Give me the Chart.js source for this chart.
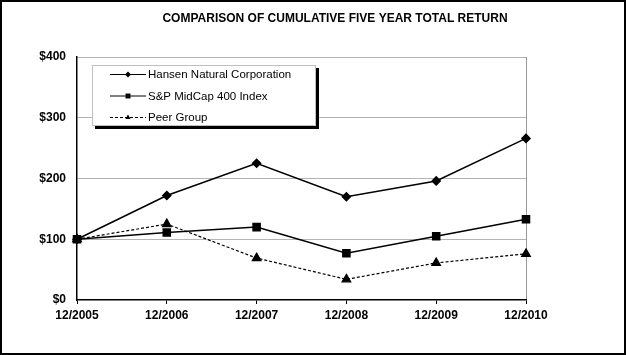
<!DOCTYPE html>
<html>
<head>
<meta charset="utf-8">
<script src="https://cdn.jsdelivr.net/npm/chart.js@4.4.1/dist/chart.umd.min.js"></script>
<style>
    html, body { margin: 0; padding: 0; background: #fff; }
    #wrap { width: 626px; height: 355px; position: relative; }
</style>
</head>
<body>
<div id="wrap"><canvas id="returnChart" width="626" height="355"></canvas></div>
<script>
// Chart values
const years = ['12/2005', '12/2006', '12/2007', '12/2008', '12/2009', '12/2010'];
const hansen = [100, 172, 225, 170, 196, 266];
const spMidCap = [100, 111, 120, 77, 105, 133];
const peerGroup = [100, 125, 69, 34, 61, 76];
const yTicks = [0, 100, 200, 300, 400];
const chartTitle = 'COMPARISON OF CUMULATIVE FIVE YEAR TOTAL RETURN';

const FONT = '"Liberation Sans", Arial, sans-serif';

// Title, framed legend with shadow and outer border
const decorPlugin = {
    id: 'decor',
    afterDraw(chart) {
        const ctx = chart.ctx;
        ctx.save();

        // title
        ctx.fillStyle = '#000';
        ctx.font = 'bold 12px ' + FONT;
        ctx.textAlign = 'center';
        ctx.textBaseline = 'middle';
        ctx.fillText(chartTitle, 335, 19);

        // legend box
        const bx = 92, by = 65, bw = 224, bh = 61;
        ctx.fillStyle = '#000';
        ctx.fillRect(bx + 3, by + 3, bw, bh);
        ctx.fillStyle = '#fff';
        ctx.fillRect(bx, by, bw, bh);
        ctx.strokeStyle = '#808080';
        ctx.lineWidth = 1;
        ctx.setLineDash([1, 1]);
        ctx.strokeRect(bx + 0.5, by + 0.5, bw - 1, bh - 1);

        const rows = [74, 95.5, 117];
        chart.data.datasets.forEach((ds, i) => {
            const y = rows[i];
            ctx.strokeStyle = '#000';
            ctx.lineWidth = 1;
            ctx.setLineDash(ds.borderDash || []);
            ctx.beginPath();
            ctx.moveTo(110, y + 0.5);
            ctx.lineTo(146, y + 0.5);
            ctx.stroke();
            ctx.setLineDash([]);
            ctx.fillStyle = '#000';
            Chart.helpers.drawPoint(ctx, {
                pointStyle: ds.pointStyle,
                radius: ds.legendRadius,
                rotation: 0,
                borderWidth: 0
            }, 128, y + 0.5);
            ctx.fillStyle = '#000';
            ctx.font = '11.5px ' + FONT;
            ctx.textAlign = 'left';
            ctx.textBaseline = 'middle';
            ctx.fillText(ds.label, 148, y + 1);
        });

        // outer frame
        ctx.setLineDash([]);
        ctx.strokeStyle = '#000';
        ctx.lineWidth = 2;
        ctx.strokeRect(1, 1, 624, 353);
        ctx.restore();
    }
};

const ctx = document.getElementById('returnChart');
new Chart(ctx, {
    type: 'line',
    data: {
        labels: years,
        datasets: [{
            label: 'Hansen Natural Corporation',
            data: hansen,
            borderColor: '#000',
            backgroundColor: '#000',
            borderWidth: 1.5,
            pointStyle: 'rectRot',
            pointRadius: 4,
            legendRadius: 3,
            tension: 0
        }, {
            label: 'S&P MidCap 400 Index',
            data: spMidCap,
            borderColor: '#000',
            backgroundColor: '#000',
            borderWidth: 1.5,
            pointStyle: 'rect',
            pointRadius: 5,
            legendRadius: 3.5,
            tension: 0
        }, {
            label: 'Peer Group',
            data: peerGroup,
            borderColor: '#000',
            backgroundColor: '#000',
            borderWidth: 1.2,
            borderDash: [3, 2],
            pointStyle: 'triangle',
            pointRadius: 5,
            legendRadius: 3,
            tension: 0
        }]
    },
    options: {
        responsive: false,
        animation: false,
        layout: { padding: { top: 57, right: 100, left: 0, bottom: 0 } },
        plugins: {
            legend: { display: false },
            title: { display: false },
            tooltip: { enabled: false }
        },
        elements: { point: { borderWidth: 0 } },
        scales: {
            x: {
                offset: false,
                grid: {
                    color: c => c.index === years.length - 1 ? '#999' : 'rgba(0,0,0,0)',
                    tickColor: '#000',
                    tickLength: 4,
                    drawOnChartArea: true
                },
                border: { color: '#000', width: 1.5 },
                ticks: {
                    color: '#000',
                    font: { family: FONT, size: 12, weight: 'bold' },
                    padding: 4,
                    maxRotation: 0
                },
                afterFit: s => { s.height = 55; }
            },
            y: {
                min: 0,
                max: 400,
                afterBuildTicks: s => { s.ticks = yTicks.map(v => ({ value: v })); },
                grid: {
                    color: c => c.tick.value === 0 ? 'rgba(0,0,0,0)' : '#b4b4b4',
                    drawTicks: false
                },
                border: { color: '#000', width: 1.5 },
                ticks: {
                    color: '#000',
                    font: { family: FONT, size: 12, weight: 'bold' },
                    padding: 11,
                    callback: v => '$' + v
                },
                afterFit: s => { s.width = 77; }
            }
        }
    },
    plugins: [decorPlugin]
});
</script>
</body>
</html>
